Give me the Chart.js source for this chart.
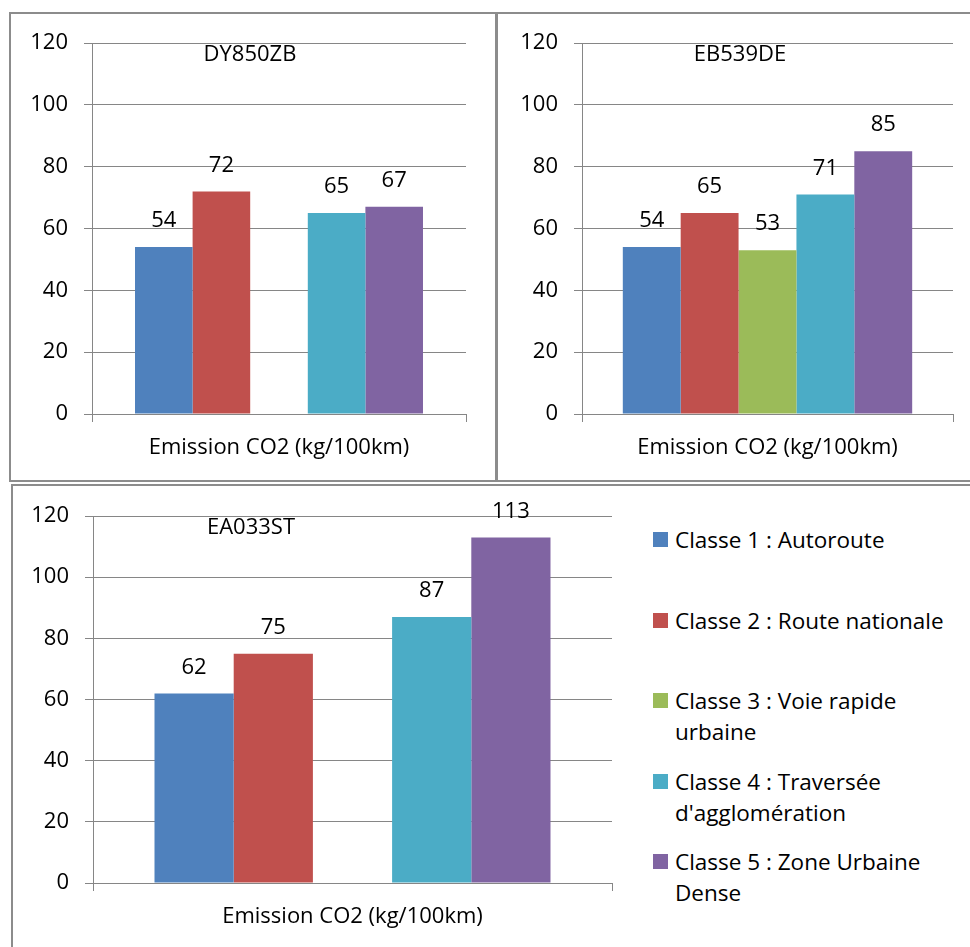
<!DOCTYPE html>
<html>
<head>
<meta charset="utf-8">
<script src="https://cdn.jsdelivr.net/npm/chart.js@4/dist/chart.umd.min.js"></script>
<style>
    body { margin: 0; background: #fff; font-family: "Open Sans", sans-serif; }
    .panel { position: absolute; border-color: #8c8c8c; border-style: solid; box-sizing: border-box; }
    .box { position: absolute; }
    #legend { position: absolute; left: 653px; top: 524px; }
    .item { position: absolute; left: 0; white-space: nowrap; font-size: 22.5px; line-height: 31px; color: #000; }
    .item .sw { position: absolute; left: 0; top: 8px; width: 15px; height: 15px; }
    .item .txt { position: absolute; left: 22px; top: 0; }
</style>
</head>
<body>
<div class="panel" style="left:9px; top:12px; width:489px; height:470px; border-width:2px;"></div>
<div class="panel" style="left:495px; top:12px; width:480px; height:470px; border-width:2px 0 2px 3px;"></div>
<div class="panel" style="left:11px; top:484px; width:965px; height:470px; border-width:2px 0 0 2px;"></div>

<div class="box" style="left:10px; top:13px; width:486px; height:467px;"><canvas id="c1"></canvas></div>
<div class="box" style="left:498px; top:13px; width:472px; height:468px;"><canvas id="c2"></canvas></div>
<div class="box" style="left:13px; top:486px; width:628px; height:461px;"><canvas id="c3"></canvas></div>
<div id="legend"></div>

<script>
// Données
const categories = ['Emission CO2 (kg/100km)'];
const classes = [
    ['Classe 1 : Autoroute'],
    ['Classe 2 : Route nationale'],
    ['Classe 3 : Voie rapide', 'urbaine'],
    ['Classe 4 : Traversée', "d'agglomération"],
    ['Classe 5 : Zone Urbaine', 'Dense']
];
const couleurs = ['#4F81BD', '#C0504D', '#9BBB59', '#4BACC6', '#8064A2'];
const vehicules = ['DY850ZB', 'EB539DE', 'EA033ST'];
const valeursDY850ZB = [54, 72, null, 65, 67];
const valeursEB539DE = [54, 65, 53, 71, 85];
const valeursEA033ST = [62, 75, null, 87, 113];
const yTicks = [0, 20, 40, 60, 80, 100, 120];

const FONT = '"Open Sans", sans-serif';
const TAILLE = 22;
const GRIS = '#868686';

// Étiquettes de valeurs + nom du véhicule
const labelsPlugin = {
    id: 'labels',
    afterDatasetsDraw(chart) {
        const ctx = chart.ctx;
        ctx.save();
        ctx.fillStyle = '#000';
        ctx.font = TAILLE + 'px ' + FONT;
        ctx.textAlign = 'center';
        ctx.textBaseline = 'middle';
        chart.data.datasets.forEach((ds, i) => {
            const meta = chart.getDatasetMeta(i);
            meta.data.forEach((bar, j) => {
                const v = ds.data[j];
                if (v === null || v === undefined) return;
                ctx.fillText(String(v), bar.x, bar.y - 26);
            });
        });
        const a = chart.chartArea;
        ctx.fillText(chart.options.plugins.nomVehicule, a.left + 158, a.top + 12);
        ctx.restore();
    }
};

function createChart(id, nom, valeurs, yWidth, xHeight, padRight, catPct) {
    const ctx = document.getElementById(id).getContext('2d');
    return new Chart(ctx, {
        type: 'bar',
        data: {
            labels: categories,
            datasets: classes.map((c, i) => ({
                label: c.join(' '),
                data: [valeurs[i]],
                backgroundColor: couleurs[i],
                borderWidth: 0
            }))
        },
        options: {
            responsive: true,
            maintainAspectRatio: false,
            animation: false,
            datasets: { bar: { categoryPercentage: catPct, barPercentage: 1, skipNull: false } },
            layout: { padding: { top: 30, right: padRight, left: 0, bottom: 0 } },
            scales: {
                x: {
                    grid: { offset: true, drawOnChartArea: false, tickLength: 8, color: GRIS },
                    border: { color: GRIS, width: 1 },
                    ticks: { color: '#000', font: { family: FONT, size: TAILLE }, padding: 13 },
                    afterFit: s => { s.height = xHeight; }
                },
                y: {
                    min: 0,
                    max: 120,
                    afterBuildTicks: s => { s.ticks = yTicks.map(v => ({ value: v })); },
                    grid: { color: GRIS, tickLength: 8 },
                    border: { color: GRIS, width: 1 },
                    ticks: { color: '#000', font: { family: FONT, size: TAILLE }, padding: 16 },
                    afterFit: s => { s.width = yWidth; }
                }
            },
            plugins: {
                legend: { display: false },
                tooltip: { enabled: false },
                nomVehicule: nom
            }
        },
        plugins: [labelsPlugin]
    });
}

createChart('c1', vehicules[0], valeursDY850ZB, 82, 66, 30, 0.77);
createChart('c2', vehicules[1], valeursEB539DE, 84, 67, 17, 0.78);
createChart('c3', vehicules[2], valeursEA033ST, 80, 64, 29, 0.763);

// Légende HTML
const legend = document.getElementById('legend');
classes.forEach((lignes, i) => {
    const item = document.createElement('div');
    item.className = 'item';
    item.style.top = Math.round(i * 80.5) + 'px';
    const sw = document.createElement('div');
    sw.className = 'sw';
    sw.style.background = couleurs[i];
    const txt = document.createElement('div');
    txt.className = 'txt';
    txt.innerHTML = lignes.map(l => l.replace(/&/g, '&amp;').replace(/</g, '&lt;')).join('<br>');
    item.appendChild(sw);
    item.appendChild(txt);
    legend.appendChild(item);
});
</script>
</body>
</html>
